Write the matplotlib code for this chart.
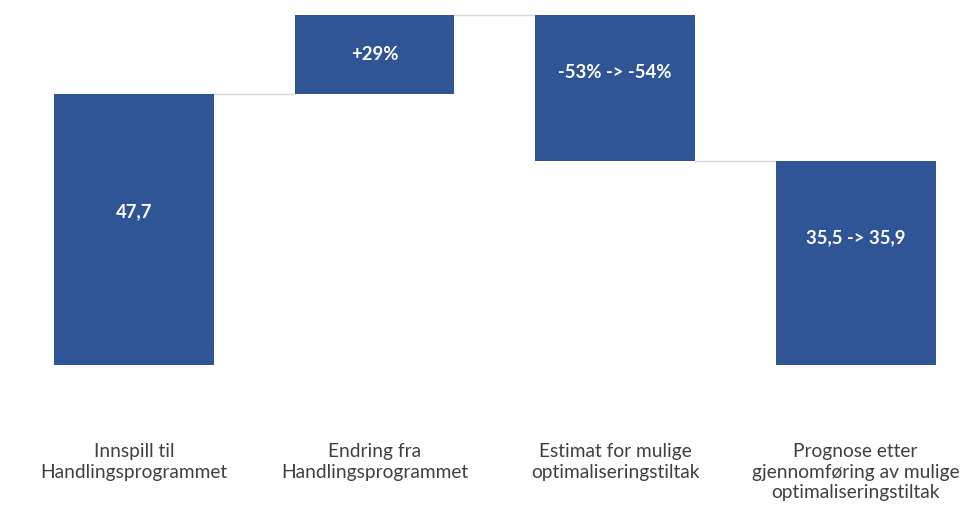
import matplotlib
matplotlib.use("Agg")
import matplotlib.pyplot as plt

# waterfall: start value, change, change, result
categories = ["Innspill til\nHandlingsprogrammet",
              "Endring fra\nHandlingsprogrammet",
              "Estimat for mulige\noptimaliseringstiltak",
              "Prognose etter\ngjennomføring av mulige\noptimaliseringstiltak"]
start_value = 47.7
increase = 13.83
decrease = -25.63
end_value = 35.9
bar_labels = ["47,7", "+29%", "-53% -> -54%", "35,5 -> 35,9"]
label_shift = [3.1, 0.0, 2.8, 4.4]   # label raised above bar middle, data units

steps = [start_value, increase, decrease, end_value]
bottoms = [0, start_value, start_value + increase + decrease, 0]
heights = [start_value, increase, -decrease, end_value]

blue = "#2F5597"
plt.rcParams['font.family'] = ['Lato', 'DejaVu Sans']

fig = plt.figure(figsize=(9.65, 5.11), dpi=100)
ax = fig.add_axes([0, 0, 1, 1])
x = list(range(len(categories)))
w = 0.665
ax.bar(x, heights, bottom=bottoms, width=w, color=blue, zorder=3)

# connector lines between bars
levels = [start_value, start_value + increase, start_value + increase + decrease]
for i, lvl in enumerate(levels):
    ax.plot([x[i] + w / 2, x[i + 1] - w / 2], [lvl, lvl], color="#D9D9D9", lw=1, zorder=2)

for i in x:
    mid = bottoms[i] + heights[i] / 2 + label_shift[i]
    ax.text(i, mid, bar_labels[i], ha="center", va="center", color="white",
            fontsize=13.3, fontweight="bold", zorder=4)
    ax.text(i, -13.7, categories[i], ha="center", va="top", color="#404040",
            fontsize=13.8, linespacing=1.27)

ax.set_xlim(-0.557, 3.455)
ax.set_ylim(-25.7, 64.25)
ax.axis("off")
fig.savefig("out.png", dpi=100)
